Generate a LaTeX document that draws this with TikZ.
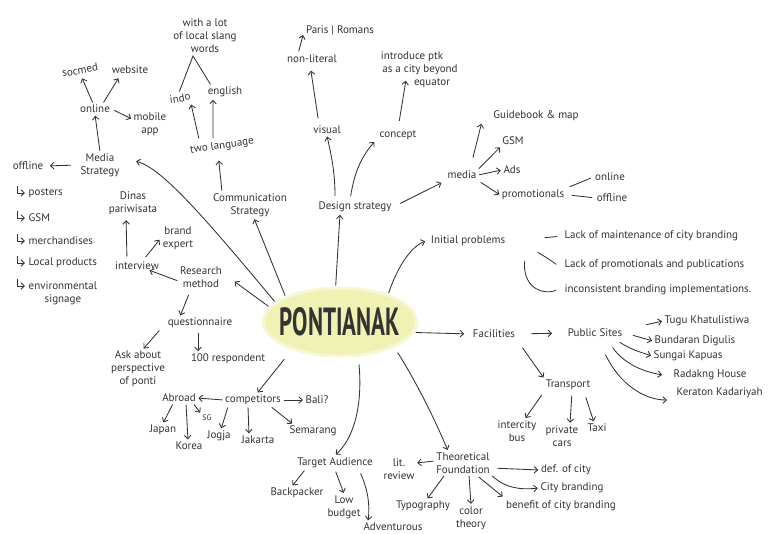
\documentclass[tikz,border=0pt]{standalone}
\usepackage{fontspec}
\setmainfont{PT Sans}
\usepackage{graphicx}
\usetikzlibrary{arrows.meta,shapes.geometric}
\definecolor{ink}{HTML}{333333}
\definecolor{cfill}{HTML}{EFF2B2}
\begin{document}
\begin{tikzpicture}[x=1pt,y=-1pt,
  lbl/.style={text=ink, font=\fontsize{11}{13}\selectfont, inner sep=1.5pt, align=center},
  arr/.style={draw=ink, line width=0.85pt, -{Straight Barb[length=3.5pt,width=6.5pt]}, shorten >=1pt, shorten <=1pt},
  ln/.style={draw=ink, line width=0.85pt, shorten >=1pt, shorten <=1pt}]
\fill[white] (0,0) rectangle (775,533);
\useasboundingbox (0,0) rectangle (775,533);

% centre
\node[ellipse, fill=cfill, draw=cfill!55, line width=3pt, minimum width=153pt, minimum height=68pt, inner sep=0pt] (c) at (340,322) {};
\node[text=ink, inner sep=0pt] (ctext) at (c) {\resizebox{120pt}{28pt}{\bfseries PONTIANAK}};

% top-left cluster
\node[lbl] (slang) at (205,36) {with a lot\\of local slang\\words};
\coordinate (apex) at (193,56);
\node[lbl, rotate=10] (indo) at (180,98) {indo};
\node[lbl] (english) at (225,92) {english};
\node[lbl, rotate=8] (twolang) at (222,146) {two language};
\node[lbl] (comm) at (250,205) {Communication\\Strategy};
\node[lbl, rotate=10] (socmed) at (80,70) {socmed};
\node[lbl] (website) at (130,70) {website};
\node[lbl] (online) at (95,109) {online};
\node[lbl] (mobile) at (150,124) {mobile\\app};
\node[lbl] (ms) at (100,165) {Media\\Strategy};
\node[lbl] (offline) at (28,166) {offline};
\node[lbl, anchor=west] (posters) at (27,193) {posters};
\node[lbl, anchor=west] (gsm1) at (27,218) {GSM};
\node[lbl, anchor=west] (merch) at (27,241) {merchandises};
\node[lbl, anchor=west] (local) at (27,263) {Local products};
\node[lbl, anchor=north west] (env) at (27,280) {environmental\\signage};

% research cluster
\node[lbl] (dinas) at (133,203) {Dinas\\pariwisata};
\node[lbl] (brand) at (178,238) {brand\\expert};
\node[lbl] (interview) at (137,266) {interview};
\node[lbl] (research) at (201,277) {Research\\method};
\node[lbl] (quest) at (200,323) {questionnaire};
\node[lbl] (ask) at (138,369) {Ask about\\perspective\\of ponti};
\node[lbl] (resp) at (228,359) {100 respondent};
\node[lbl] (comp) at (253,400) {competitors};
\node[lbl] (bali) at (317,400) {Bali?};
\node[lbl] (abroad) at (179,398) {Abroad};
\node[lbl] (japan) at (163,430) {Japan};
\node[lbl] (korea) at (189,446) {Korea};
\node[lbl, font=\fontsize{8}{9}\selectfont] (sg) at (207,418) {SG};
\node[lbl] (jogja) at (219,436) {Jogja};
\node[lbl] (jakarta) at (258,440) {Jakarta};
\node[lbl] (semarang) at (313,431) {Semarang};

% design cluster
\node[lbl] (design) at (355,207) {Design strategy};
\node[lbl] (visual) at (327,130) {visual};
\node[lbl] (concept) at (398,135) {concept};
\node[lbl] (nonlit) at (312,59) {non-literal};
\node[lbl] (paris) at (340,30) {Paris | Romans};
\node[lbl] (intro) at (420,70) {introduce ptk\hspace*{16pt}\\as a city beyond\\\hspace*{24pt}equator};
\node[lbl] (media) at (462,175) {media};
\node[lbl] (guide) at (536,116) {Guidebook \& map};
\node[lbl] (gsm2) at (513,141) {GSM};
\node[lbl] (ads) at (512,170) {Ads};
\node[lbl] (promo) at (533,195) {promotionals};
\node[lbl] (pon) at (610,177) {online};
\node[lbl] (poff) at (612,198) {offline};

% initial problems
\node[lbl] (init) at (468,241) {Initial problems};
\node[lbl, anchor=west] (p1) at (563,236) {Lack of maintenance of city branding};
\node[lbl, anchor=west] (p2) at (563,265) {Lack of promotionals and publications};
\node[lbl, anchor=west] (p3) at (563,290) {inconsistent branding implementations.};

% facilities
\node[lbl] (fac) at (494,334) {Facilities};
\node[lbl] (pub) at (595,333) {Public Sites};
\node[lbl, anchor=west] (tugu) at (663,321) {Tugu Khatulistiwa};
\node[lbl, anchor=west] (bund) at (653,341) {Bundaran Digulis};
\node[lbl, anchor=west] (sung) at (652,356) {Sungai Kapuas};
\node[lbl, anchor=west] (rad) at (672,375) {Radakng House};
\node[lbl, anchor=west] (ker) at (675,393) {Keraton Kadariyah};
\node[lbl] (trans) at (568,385) {Transport};
\node[lbl] (bus) at (517,431) {intercity\\bus};
\node[lbl] (cars) at (562,436) {private\\cars};
\node[lbl] (taxi) at (597,428) {Taxi};

% theoretical foundation
\node[lbl] (theo) at (463,463) {Theoretical\\Foundation};
\node[lbl] (lit) at (399,469) {lit.\\review};
\node[lbl] (def) at (566,470) {def. of city};
\node[lbl] (cb) at (572,488) {City branding};
\node[lbl] (ben) at (561,506) {benefit of city branding};
\node[lbl] (typo) at (423,506) {Typography};
\node[lbl] (color) at (471,518) {color\\theory};

% target audience
\node[lbl] (ta) at (335,463) {Target Audience};
\node[lbl] (back) at (297,493) {Backpacker};
\node[lbl] (low) at (344,507) {Low\\budget};
\node[lbl] (adv) at (393,527) {Adventurous};

% ---- connectors from centre
\draw[arr] (c.163) .. controls (205,218) and (162,168) .. ([xshift=14pt,yshift=4pt]ms.east);
\draw[arr] (c.155) -- ([xshift=4pt]comm.south);
\draw[arr] (c.168) -- ([xshift=10pt,yshift=-4pt]research.east);
\draw[arr] (c.97) -- ([xshift=-15pt]design.south);
\draw[arr] (c.30) .. controls (398,265) and (412,246) .. ([xshift=-3pt]init.west);
\draw[arr, shorten >=7pt] (c.-8) -- (fac.west);
\draw[arr, shorten <=6pt] (c.-25) .. controls (418,385) and (435,420) .. ([xshift=-15pt]theo.north);
\draw[arr, shorten <=8pt] (c.-62) .. controls (363,410) and (352,440) .. ([yshift=1pt]ta.north);
\draw[arr, shorten <=12pt] (c.-150) -- ([xshift=4pt]comp.north);

% top-left connectors
\draw[ln] (indo.north) -- (apex) -- ([xshift=-14pt]english.north);
\draw[arr] ([xshift=-22pt]twolang.north) -- ([xshift=10pt]indo.south);
\draw[arr] ([xshift=-8pt]twolang.north) -- ([xshift=-12pt]english.south);
\draw[arr, shorten >=8pt] ([xshift=-28pt]comm.north) -- ([xshift=-5pt]twolang.south);
\draw[arr] (ms.north) -- (online.south);
\draw[arr, shorten >=3pt] ([xshift=-2pt]online.north) -- (socmed.south);
\draw[arr, shorten >=3pt] ([xshift=8pt]online.north) -- ([xshift=-10pt]website.south);
\draw[arr, shorten <=3pt] (online.east) -- ([yshift=5pt]mobile.west);
\draw[arr, shorten <=8pt, shorten >=5pt] (ms.west) -- (offline.east);
\foreach \n in {posters,gsm1,merch,local}
  \draw[arr] ([xshift=-10pt,yshift=8pt]\n.west) |- ([xshift=-1pt]\n.west);
\draw[arr] ([xshift=-10pt,yshift=2pt]env.north west) |- ([xshift=-1pt,yshift=-6pt]env.north west);

% research connectors
\draw[arr] ([yshift=-4pt]research.west) -- ([xshift=-12pt,yshift=-4pt]interview.east);
\draw[arr, shorten <=4pt, shorten >=4pt] ([xshift=-10pt]interview.north) -- ([xshift=-7pt]dinas.south);
\draw[arr, shorten <=4pt] ([xshift=6pt]interview.north) -- ([xshift=-1pt,yshift=-1pt]brand.west);
\draw[arr, shorten <=6pt] ([xshift=-10pt]research.south) -- ([xshift=-20pt]quest.north);
\draw[arr] ([xshift=-40pt]quest.south) -- ([xshift=5pt]ask.north);
\draw[arr, shorten <=3pt] ([xshift=-2pt]quest.south) -- ([xshift=-30pt]resp.north);
\draw[arr] (comp.east) -- (bali.west);
\draw[arr] (comp.west) -- (abroad.east);
\draw[arr] ([xshift=-6pt]abroad.south) -- (japan.north);
\draw[arr] ([xshift=7pt]abroad.south) -- ([xshift=-1pt]korea.north);
\draw[arr] ([xshift=-4pt]abroad.south east) -- (sg.north west);
\draw[arr] ([xshift=-25pt]comp.south) -- ([xshift=2pt]jogja.north);
\draw[arr] ([xshift=-5pt]comp.south) -- ([xshift=-9pt]jakarta.north);
\draw[arr] ([xshift=18pt]comp.south) -- ([xshift=-20pt]semarang.north);

% design connectors
\draw[arr, shorten <=4pt] ([xshift=-20pt]design.north) .. controls (335,170) and (331,155) .. (visual.south);
\draw[arr, shorten <=4pt] ([xshift=-5pt]design.north) .. controls (354,175) and (360,158) .. ([xshift=-3pt]concept.south west);
\draw[arr, shorten <=6pt, shorten >=6pt] ([xshift=-8pt]visual.north) -- ([xshift=-2pt]nonlit.south);
\draw[arr] ([xshift=13pt,yshift=1pt]nonlit.north west) -- ([xshift=-1pt,yshift=-4pt]paris.west);
\draw[arr, shorten <=8pt] (concept.north) -- ([xshift=-14pt,yshift=10pt]intro.south);
\draw[arr, shorten <=8pt, shorten >=5pt] (design.east) -- (media.south west);
\draw[arr, shorten <=12pt] ([xshift=8pt]media.north) -- ([xshift=-10pt]guide.south west);
\draw[arr] (media.north east) -- (gsm2.south west);
\draw[arr] (media.east) -- (ads.west);
\draw[arr, shorten <=3pt] (media.south east) -- (promo.west);
\draw[ln, shorten <=4pt, shorten >=3pt] (promo.north east) -- (pon.west);
\draw[ln, shorten <=6pt, shorten >=3pt] (promo.east) .. controls (582,196) .. (poff.west);

% initial problem connectors
\draw[ln, shorten <=38pt, shorten >=6pt] (init.east) -- (p1.west);
\draw[ln] ([xshift=30pt,yshift=-4pt]init.south east) .. controls (540,254) and (548,258) .. ([xshift=-6pt]p2.west);
\draw[ln] ([xshift=18pt,yshift=-12pt]init.south east) .. controls (522,285) and (540,296) .. ([xshift=-6pt]p3.west);

% facilities connectors
\draw[arr, shorten <=14pt, shorten >=14pt] (fac.east) -- (pub.west);
\draw[arr] ([xshift=21pt,yshift=8pt]pub.east) -- (tugu.west);
\draw[arr] ([xshift=8pt,yshift=-2pt]pub.east) -- (bund.west);
\draw[arr] ([xshift=-5pt,yshift=-3pt]pub.south east) .. controls (632,350) and (640,352) .. (sung.west);
\draw[arr] ([xshift=17pt,yshift=-8pt]pub.south) .. controls (625,365) and (645,372) .. ([xshift=-9pt]rad.west);
\draw[arr] ([xshift=10pt,yshift=-15pt]pub.south) .. controls (620,385) and (645,400) .. ([xshift=-7pt,yshift=-7pt]ker.west);
\draw[arr, shorten <=10pt] (fac.south east) -- (trans.north west);
\draw[arr, shorten <=4pt] (trans.south west) -- ([xshift=8pt]bus.north);
\draw[arr, shorten <=4pt] ([xshift=4pt]trans.south) -- ([xshift=8pt]cars.north);
\draw[arr, shorten <=6pt] ([xshift=-8pt]trans.south east) -- ([xshift=-3pt]taxi.north);

% theoretical connectors
\draw[arr] ([yshift=2pt]theo.west) -- ([yshift=6pt]lit.east);
\draw[arr, shorten <=6pt] ([yshift=-5pt]theo.east) -- (def.west);
\draw[arr] (theo.south east) .. controls (505,488) and (520,490) .. (cb.west);
\draw[arr, shorten <=3pt] ([xshift=-15pt]theo.south east) -- ([xshift=-1pt,yshift=2pt]ben.north west);
\draw[arr] ([xshift=10pt]theo.south west) -- ([xshift=4pt]typo.north);
\draw[arr] ([xshift=6pt]theo.south) -- (color.north);

% target audience connectors
\draw[arr] ([xshift=-30pt]ta.south) -- ([xshift=-5pt]back.north);
\draw[arr, shorten <=2pt] (ta.south) -- (low.north);
\draw[arr, shorten <=4pt] ([xshift=24pt]ta.south) .. controls (368,490) and (370,505) .. ([xshift=-25pt]adv.north);
\end{tikzpicture}
\end{document}
